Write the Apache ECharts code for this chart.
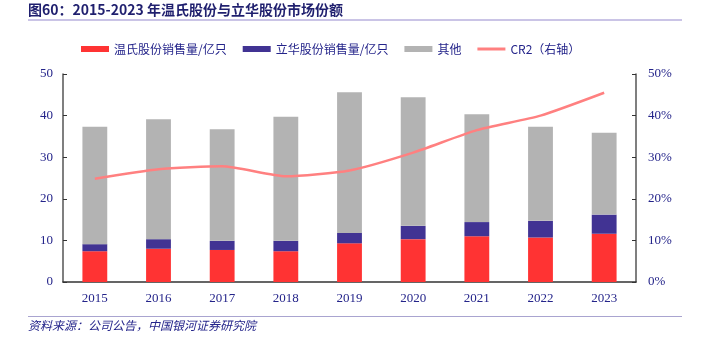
<!DOCTYPE html>
<html><head><meta charset="utf-8">
<script src="https://cdn.jsdelivr.net/npm/echarts@6/dist/echarts.min.js"></script>
<style>html,body{margin:0;padding:0;background:#fff}#c{width:711px;height:354px}</style>
</head><body><div id="c"></div>
<script>
const categories = ['2015','2016','2017','2018','2019','2020','2021','2022','2023'];
const wensSales = [7.4, 8.0, 7.7, 7.4, 9.3, 10.3, 11.0, 10.7, 11.6];
const lihuaSales = [1.7, 2.3, 2.2, 2.5, 2.5, 3.2, 3.4, 4.0, 4.6];
const otherSales = [28.2, 28.8, 26.8, 29.8, 33.8, 30.9, 25.9, 22.6, 19.7];
const cr2 = [24.8, 27.1, 27.8, 25.4, 26.8, 31.1, 36.5, 40.0, 45.5];
const leftTicks = [0, 10, 20, 30, 40, 50];
const rightTicks = ['0%', '10%', '20%', '30%', '40%', '50%'];
const titleText = '图60：2015-2023 年温氏股份与立华股份市场份额';
const sourceText = '资料来源：公司公告，中国银河证券研究院';
const names = ['温氏股份销售量/亿只', '立华股份销售量/亿只', '其他', 'CR2（右轴）'];

const navy = '#24248a';
const chart = echarts.init(document.getElementById('c'));
const axisFont = {color: navy, fontFamily: 'Liberation Serif', fontSize: 13};
chart.setOption({
  animation: false,
  grid: {left: 63, right: 75, top: 74, bottom: 72},
  legend: {
    left: 76, top: 38, itemWidth: 28, itemHeight: 6, itemGap: 16,
    textStyle: {color: navy, fontSize: 12, fontFamily: 'Noto Sans CJK SC'},
    data: [
      {name: names[0], icon: 'rect'},
      {name: names[1], icon: 'rect'},
      {name: names[2], icon: 'rect'},
      {name: names[3], icon: 'path://M0,0h28v3h-28z'}
    ]
  },
  xAxis: {
    type: 'category', data: categories,
    axisLine: {lineStyle: {color: '#333', width: 1.5}},
    axisTick: {inside: true, length: 4, lineStyle: {color: '#333'}},
    axisLabel: Object.assign({margin: 10}, axisFont)
  },
  yAxis: [
    {type: 'value', min: 0, max: 50, interval: 10,
      axisLine: {show: true, lineStyle: {color: '#555', width: 1.5}},
      axisTick: {show: true, inside: true, length: 4, lineStyle: {color: '#333'}},
      splitLine: {show: false},
      axisLabel: Object.assign({margin: 10, formatter: v => String(leftTicks[Math.round(v / 10)])}, axisFont)},
    {type: 'value', min: 0, max: 50, interval: 10,
      axisLine: {show: true, lineStyle: {color: '#555', width: 1.5}},
      axisTick: {show: true, inside: true, length: 4, lineStyle: {color: '#333'}},
      splitLine: {show: false},
      axisLabel: Object.assign({margin: 12, formatter: v => rightTicks[Math.round(v / 10)]}, axisFont)}
  ],
  series: [
    {name: names[0], type: 'bar', stack: 's', data: wensSales, barWidth: '39%', itemStyle: {color: '#ff3333'}},
    {name: names[1], type: 'bar', stack: 's', data: lihuaSales, itemStyle: {color: '#413393'}},
    {name: names[2], type: 'bar', stack: 's', data: otherSales, itemStyle: {color: '#b3b3b3'}},
    {name: names[3], type: 'line', yAxisIndex: 1, data: cr2, smooth: 0.2, symbol: 'none',
      lineStyle: {color: '#ff8080', width: 2.5}, itemStyle: {color: '#ff8080'}, z: 5}
  ],
  graphic: [
    {type: 'text', left: 28, top: 3, style: {text: titleText, fill: '#1f1f6e', font: 'bold 14px "Noto Sans CJK SC"'}},
    {type: 'rect', shape: {x: 28, y: 19, width: 654, height: 2}, style: {fill: '#cac4e6'}},
    {type: 'rect', shape: {x: 28, y: 316, width: 654, height: 1}, style: {fill: '#a9a4d0'}},
    {type: 'text', left: 28, top: 319, style: {text: sourceText, fill: navy, font: 'italic 12px "Noto Sans CJK SC"'}}
  ]
});
</script></body></html>
